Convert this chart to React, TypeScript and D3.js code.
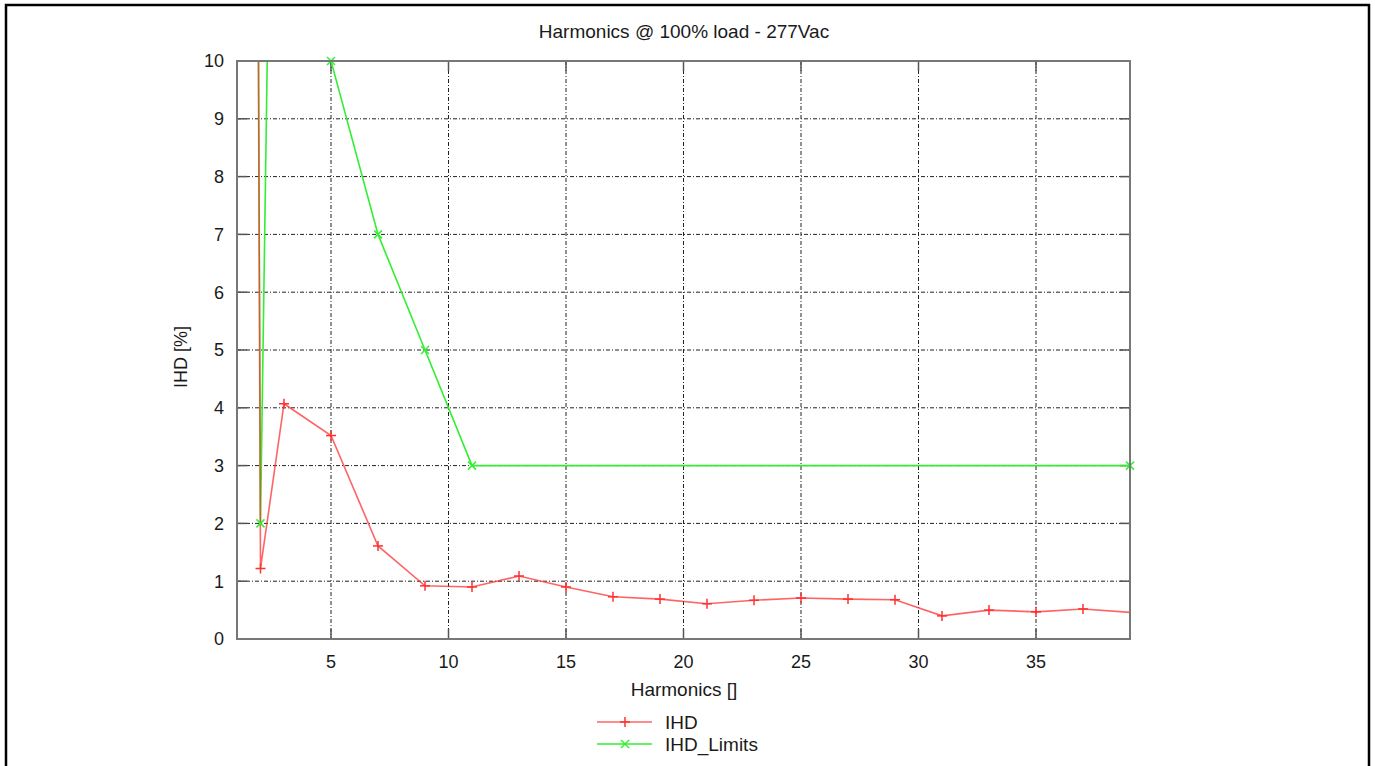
import React from "react";
import * as d3 from "d3";

const ihdHarmonics = [1, 2, 3, 5, 7, 9, 11, 13, 15, 17, 19, 21, 23, 25, 27, 29, 31, 33, 35, 37, 39];
const ihdValues = [100, 1.22, 4.07, 3.52, 1.61, 0.92, 0.9, 1.09, 0.9, 0.73, 0.69, 0.61, 0.67, 0.71, 0.69, 0.68, 0.4, 0.5, 0.47, 0.52, 0.46];
const limitHarmonics = [1, 2, 3, 5, 7, 9, 11, 39];
const limitValues = [100, 2, 30, 10, 7, 5, 3, 3];
const xTicks = [5, 10, 15, 20, 25, 30, 35];
const yTicks = [0, 1, 2, 3, 4, 5, 6, 7, 8, 9, 10];

const W = 1375, H = 766;
const L = 237, R = 1130, T = 61, B = 639;
const FONT = "'Liberation Sans', Arial, Helvetica, sans-serif";
const RED = "#ff3030";
const GREEN = "#33ee33";
const TXT = "#1a1a1a";

export default function App() {
  const x = d3.scaleLinear().domain([1, 39]).range([L, R]);
  const y = d3.scaleLinear().domain([0, 10]).range([B, T]);
  const line = d3.line<[number, number]>().x(d => x(d[0])).y(d => y(d[1]));
  const ihd: [number, number][] = ihdHarmonics.map((h, i) => [h, ihdValues[i]]);
  const lim: [number, number][] = limitHarmonics.map((h, i) => [h, limitValues[i]]);
  const inside = (d: [number, number]) => d[1] <= 10.001 && d[1] >= 0 && d[0] >= 1 && d[0] <= 39;
  const plus = (cx: number, cy: number, c: string, k: string) => (
    <g key={k} stroke={c} strokeWidth={1.5}>
      <line x1={cx - 5} x2={cx + 5} y1={cy} y2={cy} />
      <line x1={cx} x2={cx} y1={cy - 5} y2={cy + 5} />
    </g>
  );
  const cross = (cx: number, cy: number, c: string, k: string) => (
    <g key={k} stroke={c} strokeWidth={1.5}>
      <line x1={cx - 4} x2={cx + 4} y1={cy - 4} y2={cy + 4} />
      <line x1={cx - 4} x2={cx + 4} y1={cy + 4} y2={cy - 4} />
    </g>
  );
  return (
    <svg width={W} height={H} style={{ position: "absolute", left: 0, top: 0, background: "#fff" }} fontFamily={FONT}>
      <rect x={0} y={0} width={W} height={H} fill="#fff" />
      <rect x={6} y={5} width={1363} height={820} fill="none" stroke="#000" strokeWidth={2.5} />
      <defs>
        <clipPath id="plot">
          <rect x={L} y={T} width={R - L} height={B - T} />
        </clipPath>
      </defs>
      {/* grid */}
      {yTicks.slice(1, -1).map(t => (
        <line key={"gy" + t} x1={L} x2={R} y1={y(t)} y2={y(t)} stroke="#222" strokeWidth={1} strokeDasharray="4,2,1,2" />
      ))}
      {xTicks.map(t => (
        <line key={"gx" + t} x1={x(t)} x2={x(t)} y1={T} y2={B} stroke="#222" strokeWidth={1} strokeDasharray="4,2,1,2" />
      ))}
      {/* tick marks */}
      {yTicks.map(t => (
        <g key={"ty" + t} stroke="#555" strokeWidth={1.5}>
          <line x1={L} x2={L + 10} y1={y(t)} y2={y(t)} />
          <line x1={R - 10} x2={R} y1={y(t)} y2={y(t)} />
        </g>
      ))}
      {xTicks.map(t => (
        <g key={"tx" + t} stroke="#555" strokeWidth={1.5}>
          <line x1={x(t)} x2={x(t)} y1={B} y2={B - 10} />
          <line x1={x(t)} x2={x(t)} y1={T} y2={T + 10} />
        </g>
      ))}
      {/* data */}
      <g clipPath="url(#plot)">
        <path d={line(lim) || ""} fill="none" stroke={GREEN} strokeWidth={1.6} />
        <path d={line(ihd) || ""} fill="none" stroke={RED} strokeOpacity={0.75} strokeWidth={1.6} />
      </g>
      {ihd.filter(d => inside(d) && d[0] < 39).map((d, i) => plus(x(d[0]), y(d[1]), RED, "p" + i))}
      {lim.filter(inside).map((d, i) => cross(x(d[0]), y(d[1]), GREEN, "c" + i))}
      {/* border */}
      <rect x={L} y={T} width={R - L} height={B - T} fill="none" stroke="#777" strokeWidth={2} />
      {/* tick labels */}
      {yTicks.map(t => (
        <text key={"ly" + t} x={L - 13} y={y(t)} dy="0.36em" textAnchor="end" fontSize={18} fill={TXT}>{t}</text>
      ))}
      {xTicks.map(t => (
        <text key={"lx" + t} x={x(t)} y={B + 29} textAnchor="middle" fontSize={18} fill={TXT}>{t}</text>
      ))}
      <text x={684} y={38} textAnchor="middle" fontSize={19} fill={TXT}>Harmonics @ 100% load - 277Vac</text>
      <text x={684} y={696} textAnchor="middle" fontSize={19} fill={TXT}>Harmonics []</text>
      <text transform={`translate(187,357) rotate(-90)`} textAnchor="middle" fontSize={18} fill={TXT}>IHD [%]</text>
      {/* legend */}
      <line x1={597} x2={652} y1={722} y2={722} stroke={RED} strokeOpacity={0.75} strokeWidth={1.6} />
      {plus(625, 722, RED, "lp")}
      <text x={665} y={722} dy="0.36em" fontSize={19} fill={TXT}>IHD</text>
      <line x1={597} x2={652} y1={744} y2={744} stroke={GREEN} strokeWidth={1.6} />
      {cross(625, 744, GREEN, "lc")}
      <text x={665} y={744} dy="0.36em" fontSize={19} fill={TXT}>IHD_Limits</text>
    </svg>
  );
}
